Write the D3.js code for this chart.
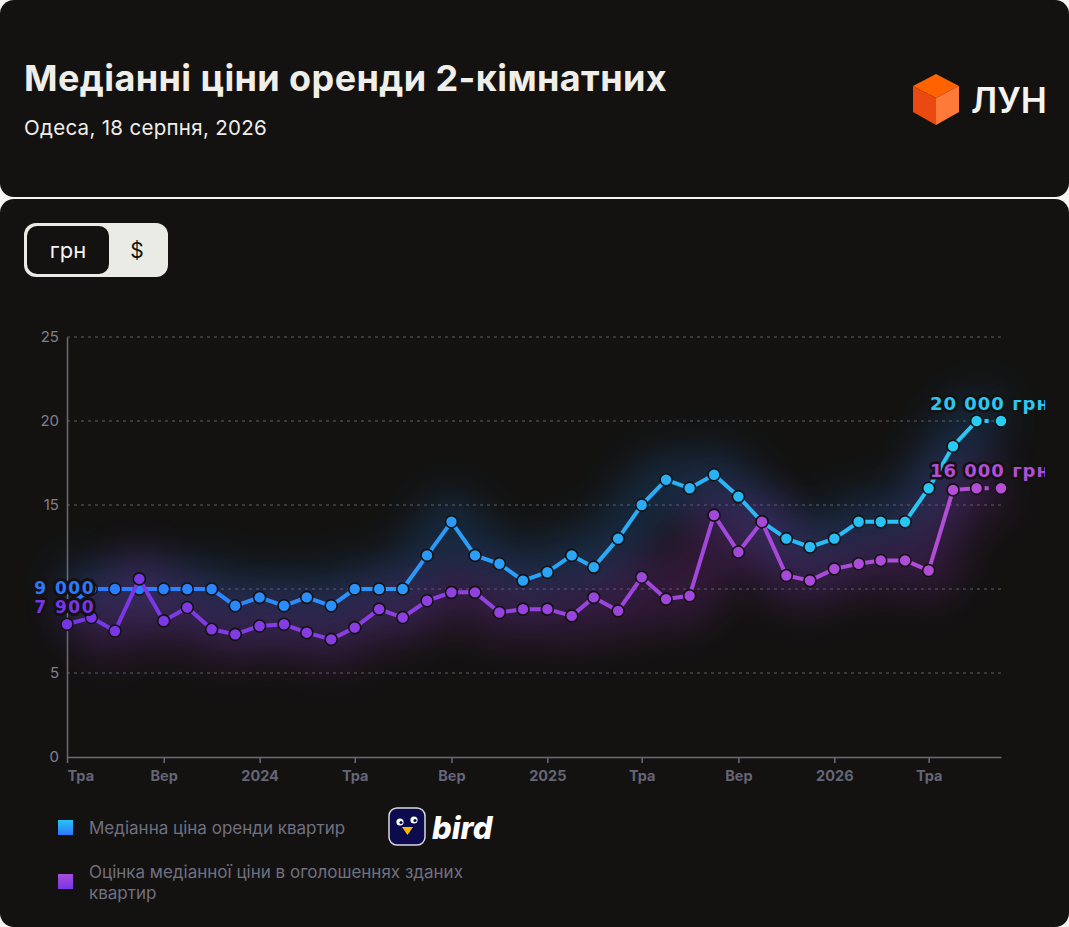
<!DOCTYPE html>
<html>
<head>
<meta charset="utf-8">
<script src="https://cdn.jsdelivr.net/npm/d3@7"></script>
<style>
  html, body { margin: 0; padding: 0; background: #f4f4f2; }
  svg { display: block; }
</style>
</head>
<body>
<div id="chart"></div>
<script>
// monthly points, May 2023 .. Aug 2026
var months = ["2023-05","2023-06","2023-07","2023-08","2023-09","2023-10","2023-11","2023-12",
  "2024-01","2024-02","2024-03","2024-04","2024-05","2024-06","2024-07","2024-08","2024-09","2024-10","2024-11","2024-12",
  "2025-01","2025-02","2025-03","2025-04","2025-05","2025-06","2025-07","2025-08","2025-09","2025-10","2025-11","2025-12",
  "2026-01","2026-02","2026-03","2026-04","2026-05","2026-06","2026-07","2026-08"];
// thousands of UAH
var medianRent = [9, 10, 10, 10, 10, 10, 10, 9, 9.5, 9, 9.5, 9, 10, 10, 10, 12, 14, 12, 11.5, 10.5,
  11, 12, 11.3, 13, 15, 16.5, 16, 16.8, 15.5, 14, 13, 12.5, 13, 14, 14, 14, 16, 18.5, 20, 20];
var listingEstimate = [7.9, 8.3, 7.5, 10.6, 8.1, 8.9, 7.6, 7.3, 7.8, 7.9, 7.4, 7.0, 7.7, 8.8, 8.3, 9.3, 9.8, 9.8, 8.6, 8.8,
  8.8, 8.4, 9.5, 8.7, 10.7, 9.4, 9.6, 14.4, 12.2, 14.0, 10.8, 10.5, 11.2, 11.5, 11.7, 11.7, 11.1, 15.9, 16.0, 16.0];
var startLabels = ["9 000", "7 900"];
var endLabels = ["20 000 грн", "16 000 грн"];
var seriesNames = ["Медіанна ціна оренди квартир", "Оцінка медіанної ціни в оголошеннях зданих", "квартир"];
var yTicks = [0, 5, 10, 15, 20, 25];
var xTickMonths = ["2023-05","2023-09","2024-01","2024-05","2024-09","2025-01","2025-05","2025-09","2026-01","2026-05"];
var xTickLabels = ["Тра","Вер","2024","Тра","Вер","2025","Тра","Вер","2026","Тра"];

var parseMonth = d3.timeParse("%Y-%m");
var dates = months.map(parseMonth);
var tickDates = xTickMonths.map(parseMonth);

var W = 1069, H = 927;
var svg = d3.select("#chart").append("svg").attr("width", W).attr("height", H);
var defs = svg.append("defs");

// cards
svg.append("rect").attr("x", 0).attr("y", 0).attr("width", W).attr("height", 197).attr("rx", 14).attr("fill", "#131211");
svg.append("rect").attr("x", 0).attr("y", 199).attr("width", W).attr("height", 728).attr("rx", 14).attr("fill", "#131211");

// header
svg.append("text").attr("x", 24).attr("y", 91)
  .style("font-family", "Inter").style("font-weight", 700).style("font-size", "36px")
  .style("letter-spacing", "0.4px")
  .attr("fill", "#efeee9").text("Медіанні ціни оренди 2-кімнатних");
svg.append("text").attr("x", 24).attr("y", 135)
  .style("font-family", "Inter").style("font-weight", 400).style("font-size", "20.5px")
  .style("letter-spacing", "0.3px")
  .attr("fill", "#efeee9").text("Одеса, 18 серпня, 2026");

// logo cube
var cube = svg.append("g");
cube.append("polygon").attr("points", "936,74 959,86 936,98 913,86").attr("fill", "#ff6300");
cube.append("polygon").attr("points", "913,86 936,98 936,125 913,112").attr("fill", "#ea4a12");
cube.append("polygon").attr("points", "936,98 959,86 959,112 936,125").attr("fill", "#ff7a38");
svg.append("text").attr("x", 971).attr("y", 113)
  .style("font-family", "Inter").style("font-weight", 600).style("font-size", "35px")
  .attr("fill", "#f4f4f2").text("ЛУН");

// currency toggle
svg.append("rect").attr("x", 24).attr("y", 223).attr("width", 144).attr("height", 54).attr("rx", 12).attr("fill", "#ebebe6");
svg.append("rect").attr("x", 27).attr("y", 226).attr("width", 82).attr("height", 48).attr("rx", 10).attr("fill", "#131211");
svg.append("text").attr("x", 68).attr("y", 258).attr("text-anchor", "middle")
  .style("font-family", "Inter").style("font-size", "22px").attr("fill", "#f4f4f2").text("грн");
svg.append("text").attr("x", 137).attr("y", 258).attr("text-anchor", "middle")
  .style("font-family", "Inter").style("font-size", "21px").attr("fill", "#131211").text("$");

// scales
var x = d3.scaleTime().domain([dates[0], dates[dates.length - 1]]).range([67, 1001]);
var y = d3.scaleLinear().domain([0, 25]).range([757, 337]);

// gradients
function grad(id, c0, c1) {
  var g = defs.append("linearGradient").attr("id", id).attr("gradientUnits", "userSpaceOnUse")
    .attr("x1", 67).attr("x2", 1001).attr("y1", 0).attr("y2", 0);
  g.append("stop").attr("offset", "0%").attr("stop-color", c0);
  g.append("stop").attr("offset", "100%").attr("stop-color", c1);
}
grad("gBlue", "#2b78ff", "#28cdf2");
grad("gPurple", "#7636e8", "#b64fd6");
defs.append("filter").attr("id", "blur").attr("x", "-20%").attr("y", "-60%").attr("width", "140%").attr("height", "220%")
  .append("feGaussianBlur").attr("stdDeviation", 20);
defs.append("clipPath").attr("id", "clipR").append("rect").attr("x", 0).attr("y", 0).attr("width", 1045).attr("height", H);

// grid
var plot = svg.append("g");
plot.selectAll(".grid").data(yTicks.filter(function(d) { return d > 0; })).enter()
  .append("line")
  .attr("x1", 67).attr("x2", 1001)
  .attr("y1", function(d) { return y(d); }).attr("y2", function(d) { return y(d); })
  .attr("stroke", "#5d5d6a").attr("stroke-width", 1.2).attr("stroke-dasharray", "3,4");

// y axis (the 10 label sits under the start value labels)
var yAxis = d3.axisLeft(y).tickValues(yTicks).tickSize(0).tickPadding(8);
var gy = plot.append("g").attr("transform", "translate(67,0)").call(yAxis);
gy.select(".domain").attr("stroke", "#6b6b78").attr("stroke-width", 1.5);
gy.selectAll("text").style("font-family", "Inter").style("font-size", "15px").attr("fill", "#80808c");
gy.selectAll(".tick").filter(function(d) { return d === 10; }).select("text").remove();

// x axis
var xAxis = d3.axisBottom(x).tickValues(tickDates).tickSize(6).tickSizeOuter(0)
  .tickFormat(function(d, i) { return xTickLabels[i]; });
var gx = plot.append("g").attr("transform", "translate(0,757)").call(xAxis);
gx.select(".domain").attr("stroke", "#6b6b78").attr("stroke-width", 1.5);
gx.selectAll("line").attr("stroke", "#6b6b78").attr("stroke-width", 1.5);
gx.selectAll("text").style("font-family", "Inter").style("font-weight", 700).style("font-size", "14.5px")
  .attr("fill", "#656575").attr("dy", "1.05em");
gx.selectAll(".tick").filter(function(d, i) { return i === 0; }).select("text").attr("text-anchor", "start");

// series
var series = [
  {values: medianRent, fill: "url(#gBlue)", glow: "#2170c4", startColor: "#2b78ff", endColor: "#2ac8f3"},
  {values: listingEstimate, fill: "url(#gPurple)", glow: "#8e2fae", startColor: "#7636e8", endColor: "#b04ed8"}
];
var line = d3.line().x(function(d) { return x(d.date); }).y(function(d) { return y(d.v); });

series.forEach(function(s) {
  s.pts = dates.map(function(d, i) { return {date: d, v: s.values[i]}; });
  plot.append("path").datum(s.pts).attr("d", line)
    .attr("fill", "none").attr("stroke", s.glow).attr("stroke-width", 56)
    .attr("stroke-linejoin", "round").attr("opacity", 0.26).attr("filter", "url(#blur)");
});

series.forEach(function(s) {
  var n = s.pts.length;
  plot.append("path").datum(s.pts.slice(0, n - 1)).attr("d", line)
    .attr("fill", "none").attr("stroke", s.fill).attr("stroke-width", 4).attr("stroke-linejoin", "round");
  plot.append("path").datum(s.pts.slice(n - 2)).attr("d", line)
    .attr("fill", "none").attr("stroke", s.fill).attr("stroke-width", 4).attr("stroke-dasharray", "4,6")
    .attr("stroke-dashoffset", -8);
  plot.selectAll(null).data(s.pts).enter().append("circle")
    .attr("cx", function(d) { return x(d.date); }).attr("cy", function(d) { return y(d.v); })
    .attr("r", 6).attr("fill", s.fill).attr("stroke", "#131211").attr("stroke-width", 1.6);
});

// value labels
var lab = plot.append("g").attr("clip-path", "url(#clipR)");
series.forEach(function(s, k) {
  var p0 = s.pts[0], pn = s.pts[s.pts.length - 1];
  lab.append("text").attr("x", x(p0.date) + 28).attr("y", y(p0.v) - 11.5)
    .attr("text-anchor", "end")
    .style("font-family", "DejaVu Sans").style("font-weight", 700).style("font-size", "17px")
    .style("letter-spacing", "1.5px")
    .attr("fill", s.startColor).attr("stroke", "#131211").attr("stroke-width", 6)
    .attr("stroke-linejoin", "round").style("paint-order", "stroke")
    .text(startLabels[k]);
  lab.append("text").attr("x", x(pn.date) - 71).attr("y", y(pn.v) - 11)
    .style("font-family", "DejaVu Sans").style("font-weight", 700).style("font-size", "18px")
    .style("letter-spacing", "1px")
    .attr("fill", s.endColor).attr("stroke", "#131211").attr("stroke-width", 5)
    .attr("stroke-linejoin", "round").style("paint-order", "stroke")
    .text(endLabels[k]);
});

// legend
var lg = svg.append("g");
var lgBlue = defs.append("linearGradient").attr("id", "sqBlue").attr("x1", 0).attr("x2", 0).attr("y1", 0).attr("y2", 1);
lgBlue.append("stop").attr("offset", "0%").attr("stop-color", "#2ac4f4");
lgBlue.append("stop").attr("offset", "100%").attr("stop-color", "#2b78ff");
var lgPurple = defs.append("linearGradient").attr("id", "sqPurple").attr("x1", 0).attr("x2", 0).attr("y1", 0).attr("y2", 1);
lgPurple.append("stop").attr("offset", "0%").attr("stop-color", "#a94ed9");
lgPurple.append("stop").attr("offset", "100%").attr("stop-color", "#7636e8");
lg.append("rect").attr("x", 58).attr("y", 820).attr("width", 15).attr("height", 15).attr("fill", "url(#sqBlue)");
lg.append("rect").attr("x", 58).attr("y", 874).attr("width", 15).attr("height", 15).attr("fill", "url(#sqPurple)");
var lgFont = function(t) { return t.style("font-family", "Inter").style("font-size", "17px").attr("fill", "#707080"); };
lg.append("text").attr("x", 89).attr("y", 834).text(seriesNames[0]).call(lgFont);
lg.append("text").attr("x", 89).attr("y", 878).text(seriesNames[1]).call(lgFont);
lg.append("text").attr("x", 89).attr("y", 899).text(seriesNames[2]).call(lgFont);

// bird badge
var bird = svg.append("g");
bird.append("rect").attr("x", 389).attr("y", 808).attr("width", 36).attr("height", 37).attr("rx", 8)
  .attr("fill", "#0b0b4d").attr("stroke", "#d8d8e0").attr("stroke-width", 1.5);
bird.append("circle").attr("cx", 400).attr("cy", 822).attr("r", 3.6).attr("fill", "#ffffff");
bird.append("circle").attr("cx", 414).attr("cy", 820).attr("r", 3.6).attr("fill", "#ffffff");
bird.append("circle").attr("cx", 401).attr("cy", 822.5).attr("r", 1.6).attr("fill", "#0b0b4d");
bird.append("circle").attr("cx", 415).attr("cy", 820.5).attr("r", 1.6).attr("fill", "#0b0b4d");
bird.append("polygon").attr("points", "402,827 413,827 407.5,835").attr("fill", "#ffb800");
bird.append("text").attr("x", 432).attr("y", 839)
  .style("font-family", "Inter").style("font-weight", 800).style("font-style", "italic").style("font-size", "31px")
  .attr("fill", "#ffffff").text("bird");
</script>
</body>
</html>
